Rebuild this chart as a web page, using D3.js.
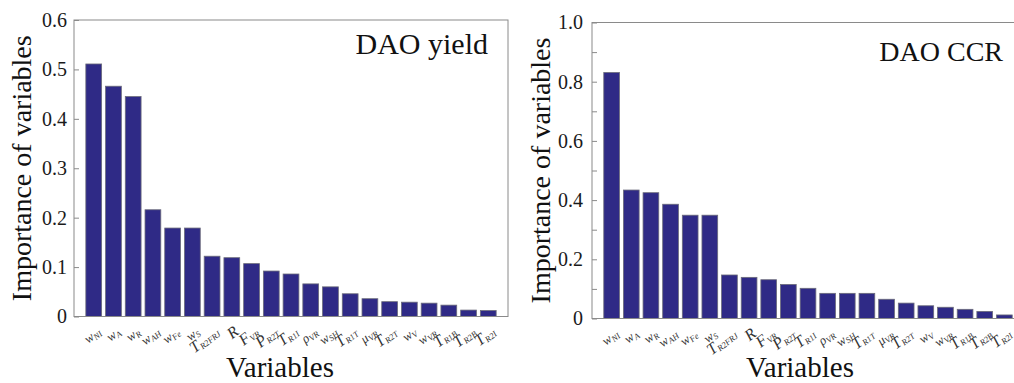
<!DOCTYPE html>
<html>
<head>
<meta charset="utf-8">
<script src="https://cdn.jsdelivr.net/npm/d3@7"></script>
<style>
  html, body { margin: 0; padding: 0; background: #fff; }
  svg { display: block; font-family: "Liberation Serif", "Times New Roman", serif; }
</style>
</head>
<body>
<svg id="chart" width="1014" height="383"></svg>
<script>
// Variable names: [base symbol, subscript]
const variables = [
  ["w", "NI"], ["w", "A"], ["w", "R"], ["w", "AH"], ["w", "Fe"], ["w", "S"],
  ["T", "R2FRJ"], ["R", ""], ["F", "VR"], ["P", "R2T"], ["T", "R1I"],
  ["ρ", "VR"], ["w", "SH"], ["T", "R1T"], ["μ", "VR"], ["T", "R2T"],
  ["w", "V"], ["w", "VR"], ["T", "R1B"], ["T", "R2B"], ["T", "R2I"]
];

// Importance of each variable for DAO yield
const yieldValues = [0.511, 0.466, 0.445, 0.216, 0.179, 0.179, 0.122, 0.119,
  0.107, 0.092, 0.086, 0.066, 0.060, 0.046, 0.036, 0.030, 0.029, 0.027,
  0.023, 0.013, 0.012];

// Importance of each variable for DAO CCR
const ccrValues = [0.831, 0.434, 0.425, 0.386, 0.349, 0.349, 0.147, 0.139,
  0.131, 0.115, 0.102, 0.085, 0.085, 0.085, 0.065, 0.052, 0.043, 0.038,
  0.031, 0.024, 0.012];

const yieldTicks = [0, 0.1, 0.2, 0.3, 0.4, 0.5, 0.6];
const yieldTickLabels = ["0", "0.1", "0.2", "0.3", "0.4", "0.5", "0.6"];
const ccrTicks = [0, 0.1, 0.2, 0.3, 0.4, 0.5, 0.6, 0.7, 0.8, 0.9, 1.0];
const ccrTickLabels = ["0", "", "0.2", "", "0.4", "", "0.6", "", "0.8", "", "1.0"];

const svg = d3.select("#chart");
const barColor = "#2f2a86";
const frameColor = "#8a8a8a";
const serif = "'Liberation Serif', 'Times New Roman', serif";

function panel(opt) {
  const g = svg.append("g");
  const x = d3.scaleLinear().domain([0, variables.length + 1]).range([opt.left, opt.right]);
  const y = d3.scaleLinear().domain([0, opt.ymax]).range([opt.bottom, opt.top]);
  const bw = (x(1) - x(0)) * 0.8;

  // bars
  g.selectAll("rect.bar").data(opt.values).enter().append("rect")
    .attr("class", "bar")
    .attr("x", (d, i) => x(i + 1) - bw / 2)
    .attr("y", d => y(d))
    .attr("width", bw)
    .attr("height", d => y(0) - y(d))
    .attr("fill", barColor)
    .attr("stroke", "#6b6b7a")
    .attr("stroke-width", 0.8);

  // frame
  g.append("rect")
    .attr("x", opt.left).attr("y", opt.top)
    .attr("width", opt.right - opt.left).attr("height", opt.bottom - opt.top)
    .attr("fill", "none").attr("stroke", frameColor).attr("stroke-width", 1);

  // y axis with inward ticks
  const yAxis = d3.axisLeft(y)
    .tickValues(opt.ticks)
    .tickSizeInner(-5).tickSizeOuter(0)
    .tickPadding(opt.tickPad)
    .tickFormat((d, i) => opt.tickLabels[i]);
  const ya = g.append("g").attr("transform", `translate(${opt.left},0)`).call(yAxis);
  ya.attr("font-family", serif);
  ya.select(".domain").remove();
  ya.selectAll(".tick line").attr("stroke", frameColor);
  ya.selectAll(".tick text")
    .attr("font-size", 20).attr("fill", "#1a1a1a");

  // x tick labels, slanted upward to the right: symbol + smaller subscript
  const lab = g.selectAll("g.xl").data(variables).enter().append("g")
    .attr("class", "xl")
    .attr("transform", (d, i) => `translate(${x(i + 1) + 8},${opt.bottom + 17}) rotate(-38)`);
  lab.each(function (d) {
    const grp = d3.select(this);
    let subW = 0;
    if (d[1] !== "") {
      const s = grp.append("text")
        .attr("x", 0).attr("y", 2)
        .attr("text-anchor", "end")
        .attr("font-style", "italic")
        .attr("font-size", 8.5)
        .attr("fill", "#333")
        .text(d[1]);
      subW = s.node().getComputedTextLength();
    }
    grp.append("text")
      .attr("x", -subW).attr("y", 0)
      .attr("text-anchor", "end")
      .attr("font-style", "italic")
      .attr("font-size", /[A-Z]/.test(d[0]) ? 16 : 13)
      .attr("fill", "#333")
      .text(d[0]);
  });

  // titles
  g.append("text")
    .attr("x", opt.titleX).attr("y", opt.titleY)
    .attr("text-anchor", "end")
    .attr("font-size", opt.titleSize).attr("fill", "#111")
    .text(opt.title);

  g.append("text")
    .attr("transform", `translate(${opt.ylabelX},${(opt.top + opt.bottom) / 2}) rotate(-90)`)
    .attr("text-anchor", "middle")
    .attr("font-size", 28).attr("fill", "#111")
    .text("Importance of variables");

  g.append("text")
    .attr("x", opt.xlabelX).attr("y", 377)
    .attr("text-anchor", "middle")
    .attr("font-size", 29).attr("fill", "#111")
    .text("Variables");
}

panel({
  left: 74, right: 508, top: 20, bottom: 316.5, ymax: 0.6,
  values: yieldValues, ticks: yieldTicks, tickLabels: yieldTickLabels, tickPad: 7,
  title: "DAO yield", titleX: 488, titleY: 54, titleSize: 30,
  ylabelX: 31, xlabelX: 280
});

panel({
  left: 592, right: 1024, top: 22.5, bottom: 318.5, ymax: 1.0,
  values: ccrValues, ticks: ccrTicks, tickLabels: ccrTickLabels, tickPad: 9,
  title: "DAO CCR", titleX: 1003, titleY: 61, titleSize: 28,
  ylabelX: 550, xlabelX: 800
});
</script>
</body>
</html>
